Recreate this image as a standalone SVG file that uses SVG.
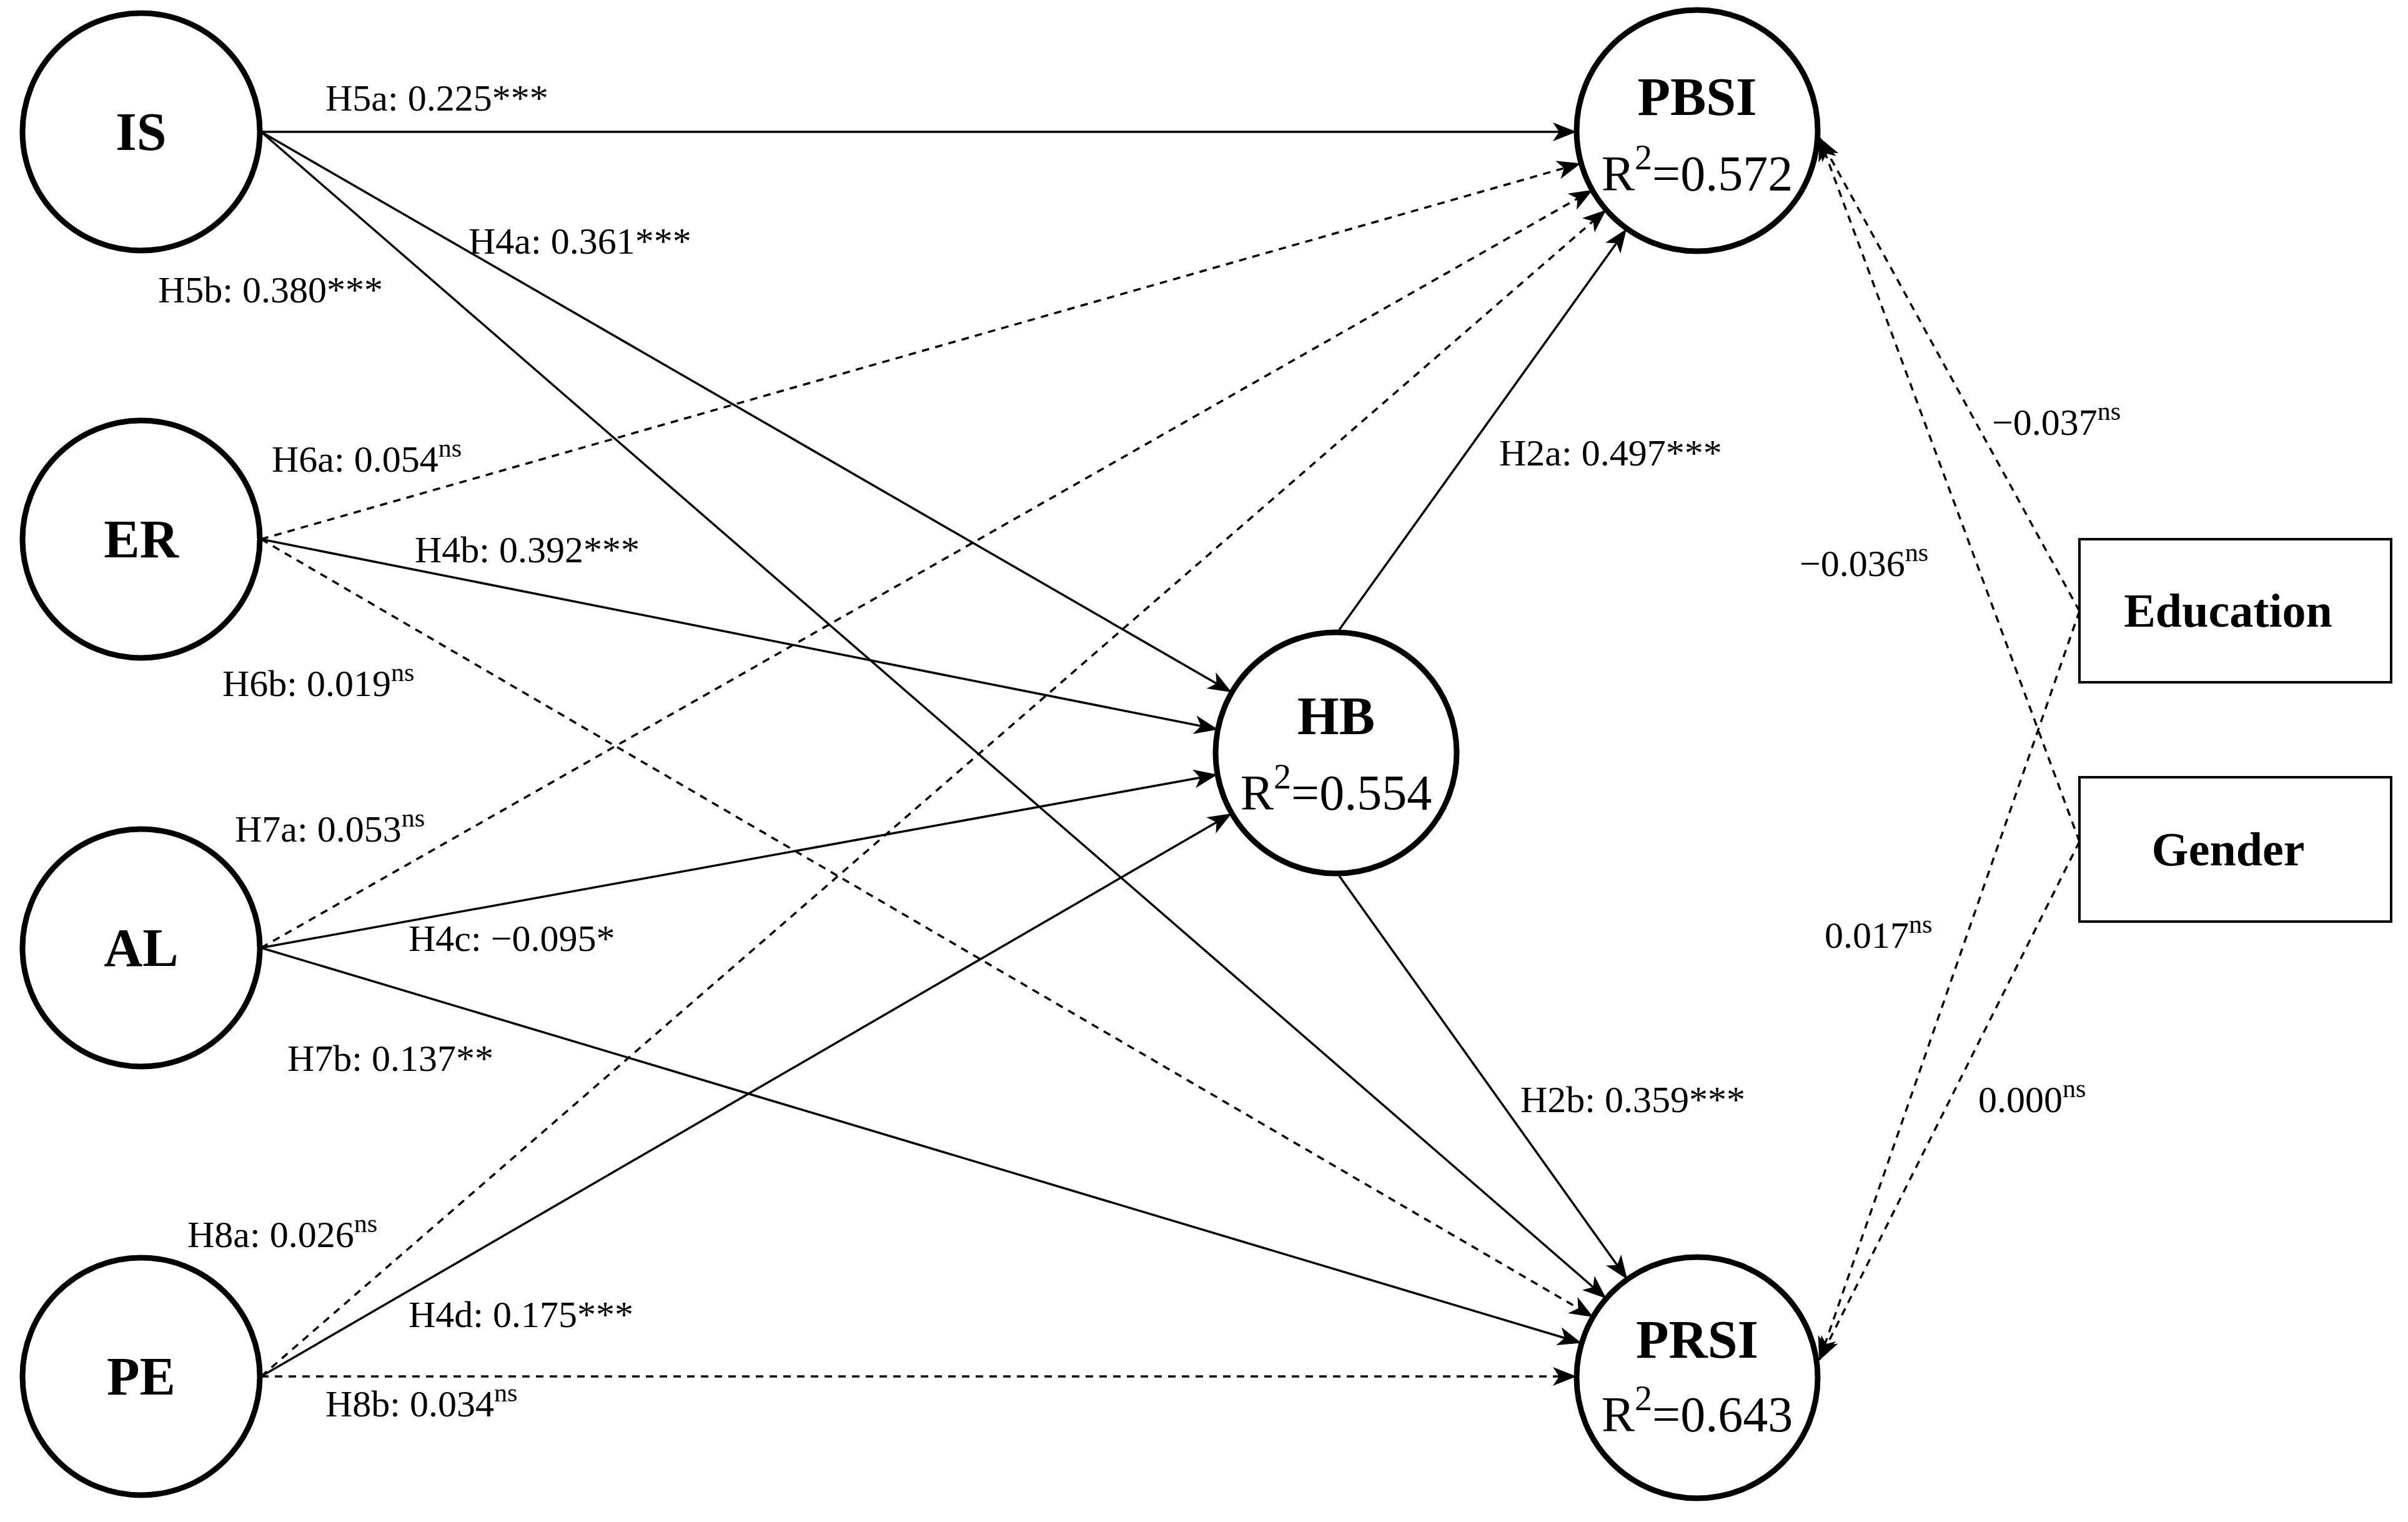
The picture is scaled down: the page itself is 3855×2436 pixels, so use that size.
<svg xmlns="http://www.w3.org/2000/svg" width="3855" height="2436" viewBox="0 0 3855 2436">
<style>
.n{fill:#fff;stroke:#000;stroke-width:9}
.b{fill:#fff;stroke:#000;stroke-width:4}
.t{font-family:"Liberation Serif",serif;fill:#000}
.nl{font-size:86px;font-weight:bold;text-anchor:middle}
.r2{font-size:80px;text-anchor:middle}
.lb{font-size:60px}
.s{stroke:#000;stroke-width:3.5;fill:none;marker-end:url(#a)}
.d{stroke:#000;stroke-width:3.5;fill:none;stroke-dasharray:12 10;marker-end:url(#a)}
</style>
<defs><marker id="a" markerUnits="userSpaceOnUse" markerWidth="40" markerHeight="30" refX="36" refY="15" orient="auto"><path d="M0,0 L38,15 L0,30 L10,15 Z" fill="#000"/></marker></defs>
<rect width="3855" height="2436" fill="#fff"/>
<g id="connectors">
<line class="s" x1="418" y1="211" x2="2522" y2="211"/>
<line class="s" x1="418" y1="211" x2="1970" y2="1107"/>
<line class="s" x1="418" y1="211" x2="2570" y2="2077"/>
<line class="d" x1="418" y1="863" x2="2529" y2="262"/>
<line class="s" x1="418" y1="863" x2="1948" y2="1167"/>
<line class="d" x1="418" y1="863" x2="2549" y2="2107"/>
<line class="d" x1="418" y1="1517" x2="2548" y2="305"/>
<line class="s" x1="418" y1="1517" x2="1947" y2="1240"/>
<line class="s" x1="418" y1="1517" x2="2530" y2="2149"/>
<line class="d" x1="418" y1="2203" x2="2570" y2="337"/>
<line class="s" x1="418" y1="2203" x2="1970" y2="1303"/>
<line class="d" x1="418" y1="2203" x2="2522" y2="2203"/>
<line class="s" x1="2144" y1="1008" x2="2603" y2="368"/>
<line class="s" x1="2144" y1="1402" x2="2604" y2="2046"/>
<line class="d" x1="3329" y1="978" x2="2913" y2="221"/>
<line class="d" x1="3329" y1="1347" x2="2913" y2="221"/>
<line class="d" x1="3329" y1="978" x2="2913" y2="2176"/>
<line class="d" x1="3329" y1="1347" x2="2913" y2="2176"/>
<g class="t lb">
<text x="521" y="177">H5a: 0.225***</text>
<text x="750" y="406">H4a: 0.361***</text>
<text x="253" y="484">H5b: 0.380***</text>
<text x="435" y="755">H6a: 0.054<tspan font-size="42" dy="-24">ns</tspan></text>
<text x="664" y="900">H4b: 0.392***</text>
<text x="356" y="1114">H6b: 0.019<tspan font-size="42" dy="-24">ns</tspan></text>
<text x="376" y="1347">H7a: 0.053<tspan font-size="42" dy="-24">ns</tspan></text>
<text x="654" y="1522">H4c: −0.095*</text>
<text x="460" y="1714">H7b: 0.137**</text>
<text x="300" y="1996">H8a: 0.026<tspan font-size="42" dy="-24">ns</tspan></text>
<text x="654" y="2124">H4d: 0.175***</text>
<text x="521" y="2267">H8b: 0.034<tspan font-size="42" dy="-24">ns</tspan></text>
<text x="2400" y="745">H2a: 0.497***</text>
<text x="2434" y="1780">H2b: 0.359***</text>
<text x="3189" y="696">−0.037<tspan font-size="42" dy="-24">ns</tspan></text>
<text x="2881" y="922">−0.036<tspan font-size="42" dy="-24">ns</tspan></text>
<text x="2921" y="1517">0.017<tspan font-size="42" dy="-24">ns</tspan></text>
<text x="3167" y="1780">0.000<tspan font-size="42" dy="-24">ns</tspan></text>
</g>
</g>
<g id="IS"><circle class="n" cx="226" cy="211" r="190"/><text class="t nl" x="226" y="240">IS</text></g>
<g id="ER"><circle class="n" cx="226" cy="863" r="190"/><text class="t nl" x="226" y="892">ER</text></g>
<g id="AL"><circle class="n" cx="226" cy="1517" r="190"/><text class="t nl" x="226" y="1546">AL</text></g>
<g id="PE"><circle class="n" cx="226" cy="2203" r="190"/><text class="t nl" x="226" y="2232">PE</text></g>
<g id="PBSI"><circle class="n" cx="2717" cy="209" r="193"/><text class="t nl" x="2717" y="184">PBSI</text><text class="t r2" x="2717" y="305">R<tspan font-size="56" dy="-34">2</tspan><tspan dy="34">=0.572</tspan></text></g>
<g id="HB"><circle class="n" cx="2139" cy="1205" r="193"/><text class="t nl" x="2139" y="1175">HB</text><text class="t r2" x="2139" y="1296">R<tspan font-size="56" dy="-34">2</tspan><tspan dy="34">=0.554</tspan></text></g>
<g id="PRSI"><circle class="n" cx="2717" cy="2205" r="193"/><text class="t nl" x="2717" y="2173">PRSI</text><text class="t r2" x="2717" y="2291">R<tspan font-size="56" dy="-34">2</tspan><tspan dy="34">=0.643</tspan></text></g>
<g id="Education"><rect class="b" x="3329" y="863" width="499" height="229"/><text class="t" x="3567" y="1003" font-size="76" font-weight="bold" text-anchor="middle">Education</text></g>
<g id="Gender"><rect class="b" x="3329" y="1244" width="499" height="231"/><text class="t" x="3567" y="1385" font-size="76" font-weight="bold" text-anchor="middle">Gender</text></g>
</svg>
